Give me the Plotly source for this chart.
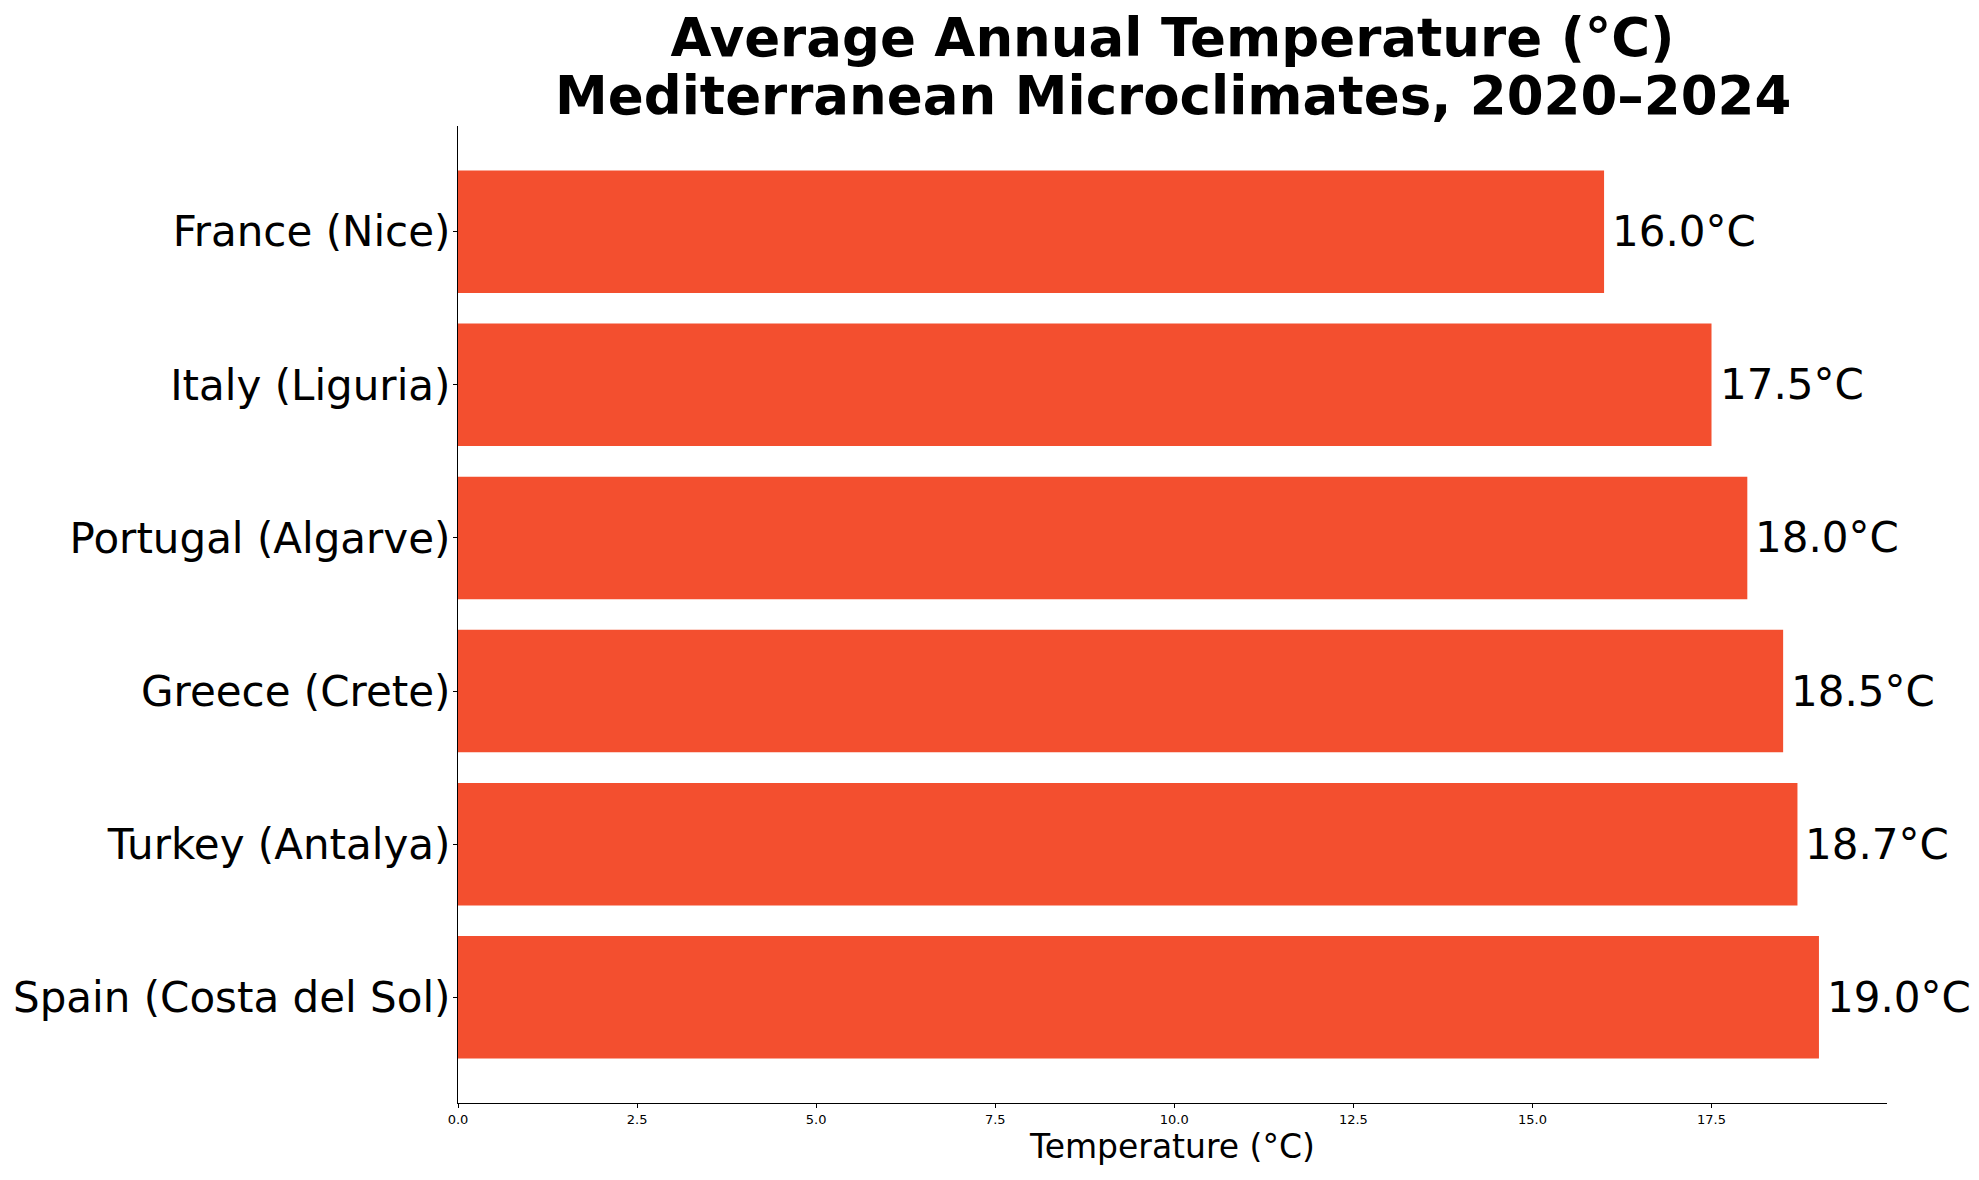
import plotly.graph_objects as go

regions = ["Spain (Costa del Sol)", "Turkey (Antalya)", "Greece (Crete)",
           "Portugal (Algarve)", "Italy (Liguria)", "France (Nice)"]
temps = [19.0, 18.7, 18.5, 18.0, 17.5, 16.0]
x_ticks = [0.0, 2.5, 5.0, 7.5, 10.0, 12.5, 15.0, 17.5]
title_line1 = "Average Annual Temperature (°C)"
title_line2 = "Mediterranean Microclimates, 2020–2024"

BAR_COLOR = "#f34f2f"
FONT = "DejaVu Sans"

W, H = 1979, 1180
L, R, T, B = 450, 100, 118, 85
plot_h = H - T - B

fig = go.Figure()
fig.add_trace(go.Bar(
    x=temps, y=regions, orientation="h",
    marker=dict(color=BAR_COLOR, line=dict(width=0)),
    width=0.8, hoverinfo="skip", showlegend=False,
))

for r, t in zip(regions, temps):
    fig.add_annotation(
        x=t, y=r, xref="x", yref="y", text=f"{t:.1f}°C",
        showarrow=False, xanchor="left", yanchor="middle", xshift=6,
        font=dict(family=FONT, size=42, color="black"),
    )

# second title line
fig.add_annotation(
    x=0.5, xref="paper", xanchor="center",
    y=1 + (T - 88) / plot_h, yref="paper", yanchor="middle",
    text=f"<b>{title_line2}</b>", showarrow=False,
    font=dict(family=FONT, size=53, color="black"),
)

fig.update_layout(
    width=W, height=H,
    margin=dict(l=L, r=R, t=T, b=B),
    paper_bgcolor="white", plot_bgcolor="white",
    font=dict(family=FONT, color="black"),
    title=dict(
        text=f"<b>{title_line1}</b>",
        x=(L + (W - R)) / 2 / W, xanchor="center",
        y=1 - 29 / H, yanchor="middle", yref="container",
        font=dict(family=FONT, size=53, color="black"),
    ),
    bargap=0.2,
)

fig.update_xaxes(
    automargin=False,
    range=[0, max(temps) * 1.05],
    tickvals=x_ticks, tickformat=".1f",
    ticks="outside", ticklen=4, tickwidth=1, tickcolor="black",
    showline=True, linecolor="black", linewidth=1.3,
    showgrid=False, zeroline=False,
    tickfont=dict(family=FONT, size=13, color="black"),
    title=dict(text="Temperature (°C)", font=dict(family=FONT, size=33, color="black"), standoff=8),
)
fig.update_yaxes(
    automargin=False,
    categoryorder="array", categoryarray=regions,
    range=[-0.69, 5.69],
    ticks="outside", ticklen=4, tickwidth=1, tickcolor="black",
    showline=True, linecolor="black", linewidth=1.3,
    showgrid=False, zeroline=False,
    ticklabelstandoff=-6,
    tickfont=dict(family=FONT, size=42, color="black"),
)

fig.write_html("out.html")
